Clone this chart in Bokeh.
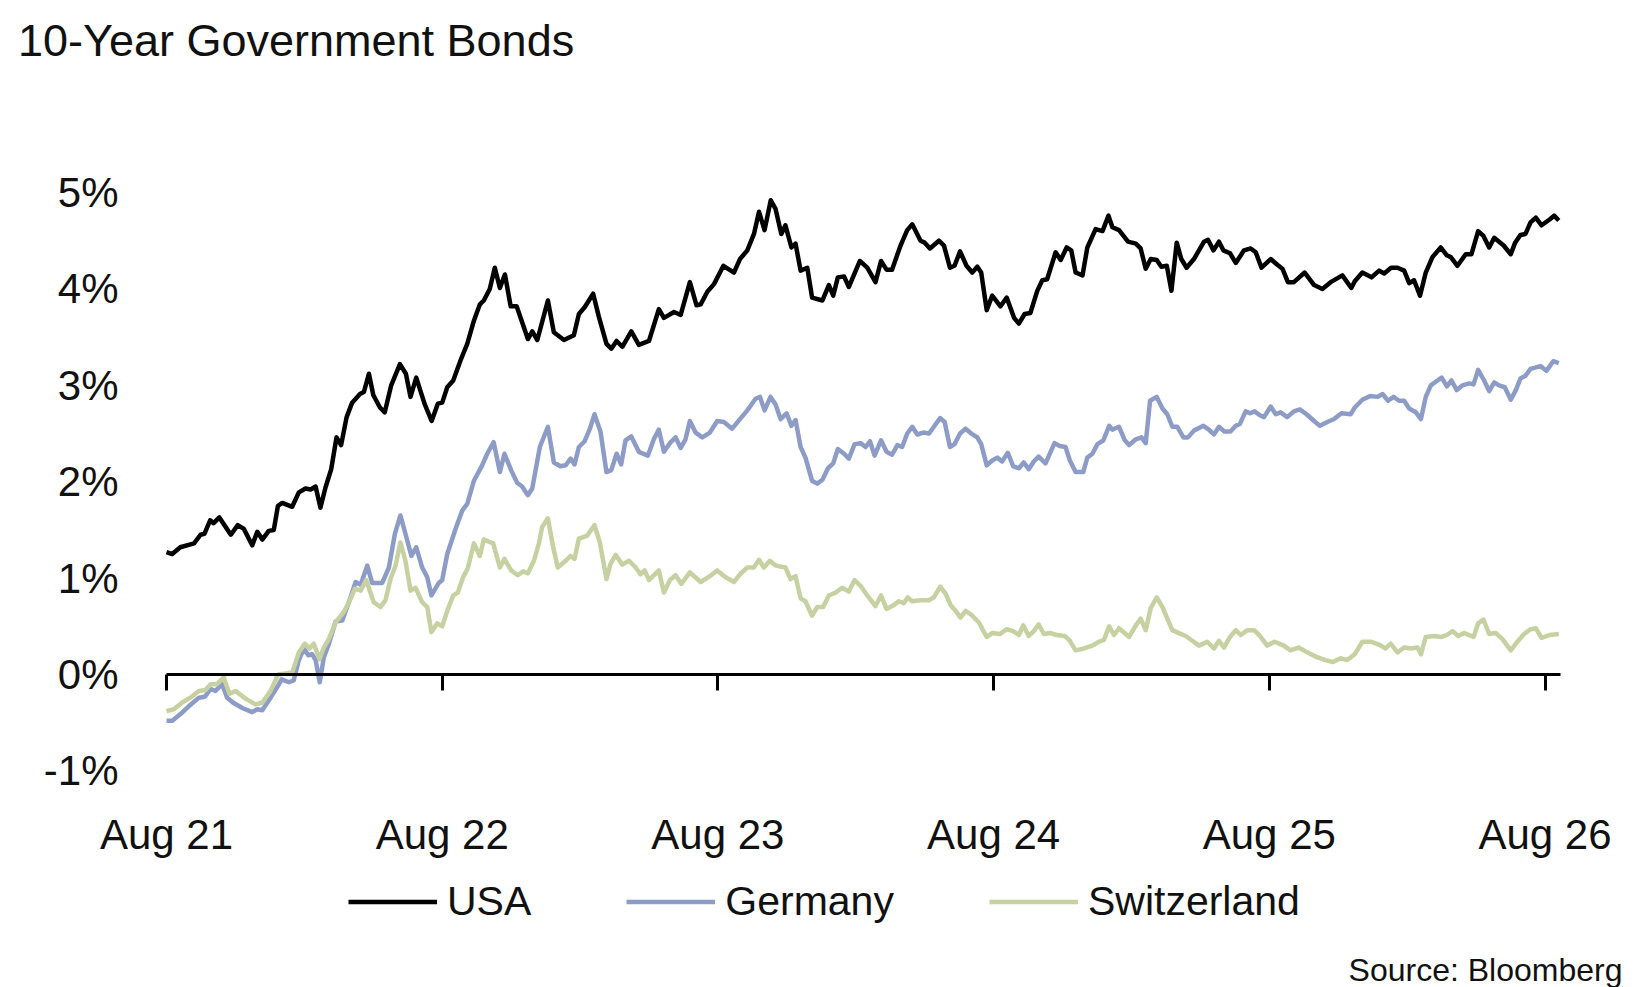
from bokeh.plotting import figure
from bokeh.models import (FixedTicker, PrintfTickFormatter, LinearAxis, Legend,
                          LegendItem, Title, Range1d, CustomLabelingPolicy)
from bokeh.embed import file_html
from bokeh.resources import INLINE

FONT = "Liberation Sans"

# x values: months since Aug 2021
tick_months = [0, 12, 24, 36, 48, 60]
tick_labels = ["Aug 21", "Aug 22", "Aug 23", "Aug 24", "Aug 25", "Aug 26"]
y_ticks = [-1, 0, 1, 2, 3, 4, 5]

usa_m = [0.0, 0.25, 0.6, 1.2, 1.48, 1.65, 1.9, 2.05, 2.3, 2.8, 3.1, 3.37, 3.73, 3.95, 4.17, 4.45, 4.67, 4.85, 5.04, 5.47,
         5.76, 6.05, 6.27, 6.49, 6.7, 6.92, 7.17, 7.4, 7.6, 7.84, 8.08, 8.42, 8.59, 8.81, 9.0, 9.29, 9.5, 9.78, 10.16, 10.42,
         10.62, 10.87, 11.23, 11.54, 11.81, 12.0, 12.22, 12.48, 12.8, 13.09, 13.38, 13.64, 13.81, 14.07, 14.29, 14.51, 14.73,
         14.98, 15.24, 15.73, 15.92, 16.14, 16.6, 16.86, 17.3, 17.73, 17.95, 18.2, 18.57, 18.82, 19.15, 19.36, 19.59, 19.84,
         20.23, 20.56, 21.0, 21.43, 21.65, 22.09, 22.38, 22.78, 23.07, 23.25, 23.54, 23.83, 24.24, 24.7, 24.96, 25.28, 25.57,
         25.79, 26.03, 26.3, 26.51, 26.76, 26.94, 27.2, 27.38, 27.6, 27.89, 28.1, 28.55, 28.83, 29.02, 29.22, 29.49, 29.7,
         30.18, 30.5, 30.86, 31.1, 31.34, 31.58, 31.95, 32.24, 32.46, 32.82, 33.0, 33.23, 33.62, 33.84, 34.1, 34.3, 34.54,
         34.82, 35.07, 35.29, 35.46, 35.7, 35.94, 36.3, 36.57, 36.89, 37.1, 37.35, 37.6, 37.9, 38.12, 38.33, 38.7, 38.92,
         39.18, 39.38, 39.57, 39.87, 40.08, 40.44, 40.74, 41.0, 41.17, 41.46, 41.85, 42.19, 42.4, 42.62, 42.84, 43.1, 43.3,
         43.54, 43.74, 43.97, 44.17, 44.4, 44.72, 45.16, 45.33, 45.57, 45.81, 46.0, 46.29, 46.54, 46.9, 47.19, 47.41, 47.66,
         48.06, 48.35, 48.57, 48.81, 49.07, 49.54, 49.95, 50.31, 50.67, 51.18, 51.57, 51.72, 52.05, 52.45, 52.78, 53.0, 53.3,
         53.58, 53.87, 54.09, 54.3, 54.56, 54.81, 55.1, 55.46, 55.72, 55.9, 56.19, 56.55, 56.8, 57.09, 57.32, 57.57, 57.79,
         58.2, 58.51, 58.7, 58.93, 59.15, 59.37, 59.6, 59.85, 60.2, 60.4, 60.6]
usa = [1.27, 1.25, 1.32, 1.36, 1.45, 1.46, 1.60, 1.57, 1.63, 1.45, 1.55, 1.51, 1.34, 1.48, 1.40, 1.49, 1.50, 1.75, 1.78, 1.74,
       1.89, 1.93, 1.92, 1.95, 1.73, 1.94, 2.13, 2.46, 2.38, 2.67, 2.82, 2.91, 2.93, 3.12, 2.90, 2.77, 2.72, 3.00, 3.22, 3.12,
       2.88, 3.08, 2.81, 2.63, 2.81, 2.82, 2.98, 3.05, 3.26, 3.43, 3.67, 3.84, 3.88, 4.00, 4.22, 4.01, 4.15,
       3.82, 3.82, 3.48, 3.56, 3.47, 3.88, 3.55, 3.47, 3.52, 3.74, 3.81, 3.95, 3.71, 3.43, 3.38, 3.46, 3.40,
       3.56, 3.42, 3.46, 3.79, 3.70, 3.76, 3.73, 4.07, 3.83, 3.84, 3.97, 4.05, 4.24, 4.17, 4.31, 4.40, 4.57,
       4.80, 4.61, 4.92, 4.83, 4.57, 4.66, 4.43, 4.47, 4.19, 4.22, 3.91, 3.88, 4.04, 3.93, 4.12, 4.13, 4.02,
       4.29, 4.22, 4.07, 4.29, 4.20, 4.20, 4.45, 4.61, 4.67, 4.50, 4.48, 4.42, 4.50, 4.45, 4.22, 4.24, 4.39,
       4.24, 4.17, 4.23, 4.17, 3.78, 3.93, 3.82, 3.91, 3.70, 3.64, 3.74, 3.75, 3.98, 4.09, 4.10, 4.38, 4.30,
       4.43, 4.40, 4.17, 4.14, 4.43, 4.62, 4.60, 4.76, 4.64, 4.61, 4.49, 4.47, 4.42, 4.21, 4.31, 4.30, 4.23,
       4.24, 3.98, 4.48, 4.31, 4.22, 4.31, 4.49, 4.51, 4.40, 4.49, 4.40, 4.37, 4.27, 4.40, 4.42, 4.38, 4.22,
       4.31, 4.25, 4.21, 4.07, 4.07, 4.17, 4.04, 4.00, 4.07, 4.14, 4.01, 4.08, 4.17, 4.12, 4.19, 4.16, 4.22,
       4.22, 4.19, 4.06, 4.09, 3.93, 4.17, 4.33, 4.43, 4.35, 4.33, 4.24, 4.36, 4.36, 4.60, 4.55, 4.43, 4.53,
       4.45, 4.36, 4.48, 4.56, 4.57, 4.69, 4.74, 4.66, 4.72, 4.76, 4.71]

ger_m = [0.0, 0.25, 0.61, 0.97, 1.41, 1.67, 1.92, 2.13, 2.42, 2.64, 2.89, 3.32, 3.73, 3.95, 4.17, 4.53, 4.82, 5.01, 5.33,
         5.54, 5.76, 5.98, 6.17, 6.34, 6.49, 6.67, 6.85, 7.07, 7.36, 7.65, 7.94, 8.23, 8.45, 8.74, 8.95, 9.39, 9.68, 9.94,
         10.18, 10.4, 10.66, 10.87, 11.13, 11.35, 11.53, 11.85, 12.0, 12.22, 12.58, 12.87, 13.09, 13.38, 13.74, 13.96, 14.24,
         14.51, 14.71, 15.0, 15.26, 15.48, 15.73, 15.92, 16.25, 16.6, 16.86, 17.15, 17.37, 17.59, 17.76, 17.95, 18.2, 18.43,
         18.63, 18.89, 19.15, 19.36, 19.59, 19.79, 19.98, 20.23, 20.56, 20.95, 21.21, 21.43, 21.65, 21.91, 22.16, 22.38,
         22.59, 22.78, 23.03, 23.32, 23.65, 23.97, 24.26, 24.62, 24.96, 25.28, 25.64, 25.83, 26.03, 26.29, 26.51, 26.73,
         26.99, 27.2, 27.38, 27.6, 27.81, 28.1, 28.32, 28.55, 28.79, 29.02, 29.22, 29.49, 29.7, 29.95, 30.21, 30.43, 30.62,
         30.82, 31.1, 31.34, 31.58, 31.81, 32.02, 32.24, 32.46, 32.68, 32.94, 33.19, 33.4, 33.67, 33.87, 34.1, 34.3, 34.54,
         34.78, 35.03, 35.29, 35.46, 35.7, 35.94, 36.16, 36.37, 36.62, 36.85, 37.1, 37.31, 37.53, 37.75, 37.96, 38.26,
         38.65, 38.88, 39.13, 39.32, 39.57, 39.9, 40.08, 40.3, 40.52, 40.78, 41.03, 41.17, 41.46, 41.71, 41.9, 42.19, 42.44,
         42.62, 42.81, 43.1, 43.35, 43.56, 43.78, 44.0, 44.26, 44.46, 44.72, 45.13, 45.37, 45.59, 45.81, 46.05, 46.31,
         46.54, 46.72, 46.97, 47.16, 47.36, 47.59, 47.77, 48.06, 48.28, 48.49, 48.78, 49.07, 49.33, 49.62, 49.95, 50.2,
         50.53, 50.82, 51.14, 51.55, 51.72, 52.05, 52.39, 52.71, 52.93, 53.17, 53.41, 53.65, 53.87, 54.09, 54.38, 54.6,
         54.81, 55.03, 55.32, 55.5, 55.73, 55.93, 56.16, 56.41, 56.7, 56.89, 57.09, 57.35, 57.57, 57.79, 58.0, 58.25,
         58.51, 58.73, 58.93, 59.15, 59.37, 59.8, 60.06, 60.36, 60.6]
germany = [-0.48, -0.48, -0.41, -0.33, -0.24, -0.23, -0.15, -0.17, -0.10, -0.24, -0.29, -0.35, -0.39, -0.36, -0.37, -0.24,
           -0.13, -0.05, -0.08, -0.06, 0.15, 0.27, 0.20, 0.21, 0.15, -0.08, 0.18, 0.32, 0.55, 0.56, 0.75, 0.96, 0.93, 1.13,
           0.95, 0.95, 1.11, 1.46, 1.65, 1.46, 1.23, 1.32, 1.11, 1.01, 0.82, 0.95, 0.98, 1.25, 1.51, 1.70, 1.77, 2.01, 2.17,
           2.29, 2.41, 2.10, 2.29, 2.12, 1.99, 1.95, 1.86, 1.93, 2.36, 2.57, 2.20, 2.16, 2.17, 2.24, 2.18, 2.36, 2.42, 2.55,
           2.70, 2.52, 2.10, 2.12, 2.29, 2.18, 2.43, 2.47, 2.31, 2.27, 2.44, 2.54, 2.31, 2.40, 2.46, 2.35, 2.44, 2.63, 2.51,
           2.46, 2.51, 2.63, 2.62, 2.55, 2.65, 2.74, 2.86, 2.88, 2.74, 2.88, 2.80, 2.65, 2.71, 2.58, 2.64, 2.36, 2.25, 2.01,
           1.98, 2.02, 2.14, 2.19, 2.34, 2.29, 2.24, 2.39, 2.40, 2.36, 2.42, 2.27, 2.43, 2.31, 2.28, 2.38, 2.36, 2.50, 2.57,
           2.49, 2.51, 2.50, 2.57, 2.66, 2.62, 2.36, 2.39, 2.50, 2.55, 2.50, 2.46, 2.39, 2.17, 2.22, 2.25, 2.21, 2.30, 2.16,
           2.14, 2.20, 2.13, 2.21, 2.26, 2.19, 2.40, 2.37, 2.36, 2.22, 2.10, 2.10, 2.25, 2.29, 2.39, 2.43, 2.58, 2.54, 2.57,
           2.43, 2.38, 2.44, 2.46, 2.40, 2.84, 2.88, 2.76, 2.70, 2.57, 2.57, 2.46, 2.46, 2.53, 2.58, 2.54, 2.49, 2.57, 2.52,
           2.52, 2.58, 2.60, 2.73, 2.71, 2.73, 2.69, 2.67, 2.78, 2.70, 2.72, 2.67, 2.73, 2.75, 2.70, 2.63, 2.58, 2.62, 2.65,
           2.71, 2.70, 2.77, 2.85, 2.89, 2.88, 2.91, 2.84, 2.88, 2.84, 2.84, 2.76, 2.72, 2.65, 2.88, 3.00, 3.05, 3.08, 2.99,
           3.05, 2.95, 3.00, 3.02, 3.01, 3.16, 3.05, 2.94, 3.03, 3.00, 2.98, 2.85, 2.95, 3.07, 3.10, 3.17, 3.20, 3.15, 3.25,
           3.23]

swi_m = [0.0, 0.32, 0.68, 1.04, 1.41, 1.7, 1.92, 2.2, 2.49, 2.74, 3.0, 3.44, 3.87, 4.17, 4.53, 4.86, 5.18, 5.47, 5.76, 6.02,
         6.22, 6.41, 6.66, 6.85, 7.07, 7.36, 7.72, 7.94, 8.2, 8.45, 8.69, 9.02, 9.31, 9.53, 9.75, 9.97, 10.18, 10.4, 10.62,
         10.84, 11.13, 11.35, 11.53, 11.78, 12.0, 12.22, 12.48, 12.68, 12.91, 13.11, 13.38, 13.64, 13.81, 14.22, 14.51, 14.71,
         15.0, 15.29, 15.52, 15.73, 15.99, 16.21, 16.35, 16.6, 16.83, 17.03, 17.37, 17.59, 17.76, 17.95, 18.31, 18.63, 18.86,
         19.15, 19.33, 19.55, 19.84, 20.13, 20.42, 20.63, 20.81, 21.0, 21.43, 21.65, 21.91, 22.16, 22.41, 22.78, 23.25, 23.65,
         23.97, 24.33, 24.7, 24.96, 25.28, 25.57, 25.79, 26.0, 26.26, 26.51, 26.94, 27.16, 27.38, 27.6, 27.81, 28.1, 28.32,
         28.58, 28.83, 29.12, 29.41, 29.7, 29.95, 30.21, 30.5, 30.86, 31.1, 31.34, 31.66, 31.87, 32.09, 32.26, 32.46, 32.82,
         33.19, 33.4, 33.67, 33.91, 34.13, 34.35, 34.56, 34.78, 35.03, 35.36, 35.7, 35.94, 36.27, 36.57, 36.85, 37.1, 37.29,
         37.53, 37.75, 37.96, 38.19, 38.48, 38.74, 39.09, 39.32, 39.57, 39.93, 40.3, 40.58, 40.8, 41.03, 41.24, 41.46, 41.9,
         42.19, 42.4, 42.62, 42.84, 43.1, 43.35, 43.56, 43.78, 44.07, 44.36, 44.65, 44.94, 45.3, 45.59, 45.81, 46.03, 46.29,
         46.54, 46.76, 47.05, 47.34, 47.59, 47.91, 48.23, 48.63, 48.92, 49.28, 49.65, 50.08, 50.44, 50.77, 51.1, 51.39,
         51.72, 52.05, 52.41, 52.78, 53.06, 53.28, 53.58, 53.87, 54.16, 54.45, 54.6, 54.81, 55.17, 55.5, 55.73, 55.98,
         56.22, 56.48, 56.89, 57.09, 57.32, 57.57, 57.85, 58.14, 58.51, 58.8, 59.09, 59.37, 59.6, 59.85, 60.2, 60.6]
switzerland = [-0.38, -0.36, -0.29, -0.24, -0.17, -0.16, -0.10, -0.10, -0.03, -0.20, -0.17, -0.25, -0.31, -0.29, -0.17,
               0.00, 0.01, 0.02, 0.23, 0.32, 0.27, 0.32, 0.16, 0.28, 0.37, 0.54, 0.65, 0.75, 0.89, 0.87, 0.98, 0.75, 0.70,
               0.77, 0.99, 1.13, 1.37, 1.18, 0.87, 0.90, 0.75, 0.70, 0.44, 0.53, 0.50, 0.66, 0.82, 0.85, 1.01, 1.10, 1.36,
               1.23, 1.40, 1.36, 1.11, 1.20, 1.08, 1.03, 1.07, 1.05, 1.18, 1.36, 1.53, 1.62, 1.32, 1.11, 1.18, 1.23, 1.20,
               1.41, 1.44, 1.55, 1.37, 0.99, 1.15, 1.24, 1.14, 1.18, 1.11, 1.04, 1.08, 0.98, 1.08, 0.85, 0.98, 1.03, 0.94,
               1.06, 0.96, 1.02, 1.08, 1.01, 0.96, 1.04, 1.11, 1.11, 1.19, 1.11, 1.18, 1.13, 1.11, 0.99, 1.02, 0.79, 0.76,
               0.61, 0.70, 0.70, 0.82, 0.85, 0.90, 0.86, 0.98, 0.92, 0.82, 0.71, 0.82, 0.68, 0.72, 0.76, 0.74, 0.80, 0.76,
               0.77, 0.77, 0.80, 0.91, 0.84, 0.72, 0.66, 0.59, 0.66, 0.62, 0.54, 0.39, 0.43, 0.42, 0.47, 0.45, 0.41, 0.51,
               0.40, 0.45, 0.52, 0.42, 0.43, 0.41, 0.40, 0.35, 0.25, 0.27, 0.30, 0.34, 0.36, 0.50, 0.41, 0.48, 0.39, 0.51,
               0.58, 0.46, 0.69, 0.80, 0.70, 0.58, 0.46, 0.43, 0.40, 0.35, 0.30, 0.34, 0.27, 0.35, 0.28, 0.39, 0.46, 0.41,
               0.46, 0.46, 0.40, 0.30, 0.34, 0.30, 0.25, 0.28, 0.23, 0.18, 0.15, 0.13, 0.17, 0.15, 0.21, 0.34, 0.34, 0.31,
               0.27, 0.32, 0.23, 0.28, 0.27, 0.28, 0.21, 0.39, 0.40, 0.39, 0.41, 0.45, 0.40, 0.43, 0.39, 0.53, 0.57, 0.42,
               0.43, 0.37, 0.25, 0.34, 0.42, 0.47, 0.48, 0.38, 0.41, 0.42]

series_names = ["USA", "Germany", "Switzerland"]
series_colors = ["#000000", "#8c9cc6", "#c7d0a0"]

# ---- layout geometry (pixels) ----
W, H = 1639, 987
FRAME_L, FRAME_R, FRAME_T = 90, 1625, 139
BOTTOM = 38
AXIS_X0 = 166            # pixel where Aug 21 sits
PX_PER_MONTH = 22.975
PX_PER_PCT = 96.4
X_END_DATA = 60.67       # months, end of the zero line
Y_TOP = 5.55
Y_BOT = Y_TOP - (H - BOTTOM - FRAME_T) / PX_PER_PCT
X_START = -(AXIS_X0 - FRAME_L) / PX_PER_MONTH
X_END = (FRAME_R - AXIS_X0) / PX_PER_MONTH
ZERO_PX = FRAME_T + Y_TOP * PX_PER_PCT
LABEL_ROW = -(857 - ZERO_PX) / PX_PER_PCT   # bottom of the date labels
TITLE_GAP = 70                               # empty band between title and plot area

no_labels = "for (const i of indices) { indices.unset(i) } return indices"

p = figure(width=W, height=H, output_backend="svg", toolbar_location=None,
           x_axis_location=None,
           x_range=Range1d(X_START, X_END), y_range=Range1d(Y_BOT, Y_TOP),
           min_border_left=FRAME_L, min_border_right=W - FRAME_R,
           min_border_top=FRAME_T, min_border_bottom=BOTTOM)
p.outline_line_color = None
p.xgrid.grid_line_color = None
p.ygrid.grid_line_color = None
p.background_fill_color = "white"
p.border_fill_color = "white"
p.title.text = ""

# invisible spacer band above the plot area (keeps the title near the top edge)
spacer = LinearAxis(ticker=FixedTicker(ticks=tick_months), axis_line_color=None,
                    major_tick_line_color=None, minor_tick_line_color=None,
                    major_tick_out=TITLE_GAP, major_tick_in=0, minor_tick_out=0, minor_tick_in=0,
                    major_label_text_font_size="1px", major_label_standoff=0,
                    major_label_policy=CustomLabelingPolicy(code=no_labels))
p.add_layout(spacer, "above")

main_title = Title(text="10-Year Government Bonds", align="left", text_font=FONT,
                   text_font_size="45px", text_font_style="normal", text_color="#111111",
                   offset=17.5 - FRAME_L, standoff=0)
p.add_layout(main_title, "above")

r_ger = p.line(ger_m, germany, line_color=series_colors[1], line_width=4.5, line_join="round")
r_swi = p.line(swi_m, switzerland, line_color=series_colors[2], line_width=4.5, line_join="round")
r_usa = p.line(usa_m, usa, line_color=series_colors[0], line_width=4.5, line_join="round")

# y axis (labels right-aligned at x=118 px)
p.yaxis.ticker = FixedTicker(ticks=y_ticks)
p.yaxis.formatter = PrintfTickFormatter(format="%d%%")
p.yaxis.axis_line_color = None
p.yaxis.major_tick_line_color = None
p.yaxis.minor_tick_line_color = None
p.yaxis.major_tick_out = 0
p.yaxis.major_tick_in = 0
p.yaxis.minor_tick_out = 0
p.yaxis.minor_tick_in = 0
p.yaxis.major_label_standoff = -(118 - FRAME_L)
p.yaxis.major_label_text_font = FONT
p.yaxis.major_label_text_font_size = "42px"
p.yaxis.major_label_text_color = "#111111"

# zero line with downward ticks (no labels)
zero_axis = LinearAxis(fixed_location=0, ticker=FixedTicker(ticks=tick_months),
                       bounds=(0, X_END_DATA),
                       major_label_text_font_size="1px", major_label_standoff=0,
                       major_label_policy=CustomLabelingPolicy(code=no_labels),
                       major_tick_in=16, major_tick_out=0, minor_tick_out=0, minor_tick_in=0,
                       axis_line_width=3, major_tick_line_width=3,
                       axis_line_color="black", major_tick_line_color="black",
                       minor_tick_line_color=None)
p.add_layout(zero_axis, "above")

# date labels row
label_axis = LinearAxis(fixed_location=LABEL_ROW, ticker=FixedTicker(ticks=tick_months),
                        major_label_overrides=dict(zip(tick_months, tick_labels)),
                        axis_line_color=None, major_tick_line_color=None, minor_tick_line_color=None,
                        major_tick_out=0, major_tick_in=0, minor_tick_out=0, minor_tick_in=0,
                        major_label_standoff=0, major_label_text_font=FONT,
                        major_label_text_font_size="42px", major_label_text_color="#111111")
p.add_layout(label_axis, "above")

legend = Legend(items=[LegendItem(label=series_names[0], renderers=[r_usa]),
                       LegendItem(label=series_names[1], renderers=[r_ger]),
                       LegendItem(label=series_names[2], renderers=[r_swi])],
                orientation="horizontal", location=(348 - FRAME_L, (H - BOTTOM) - 924.5),
                glyph_width=89, glyph_height=47, label_height=47, label_standoff=10, spacing=95,
                padding=0, margin=0, border_line_color=None, background_fill_alpha=0,
                label_text_font=FONT, label_text_font_size="41px", label_text_color="#111111")
p.add_layout(legend, "center")

src = Title(text="Source: Bloomberg", align="right", text_font=FONT, text_font_size="32px",
            text_font_style="normal", text_color="#111111", offset=FRAME_R - 1622, standoff=0)
p.add_layout(src, "below")

open("out.html", "w").write(file_html(p, INLINE))
